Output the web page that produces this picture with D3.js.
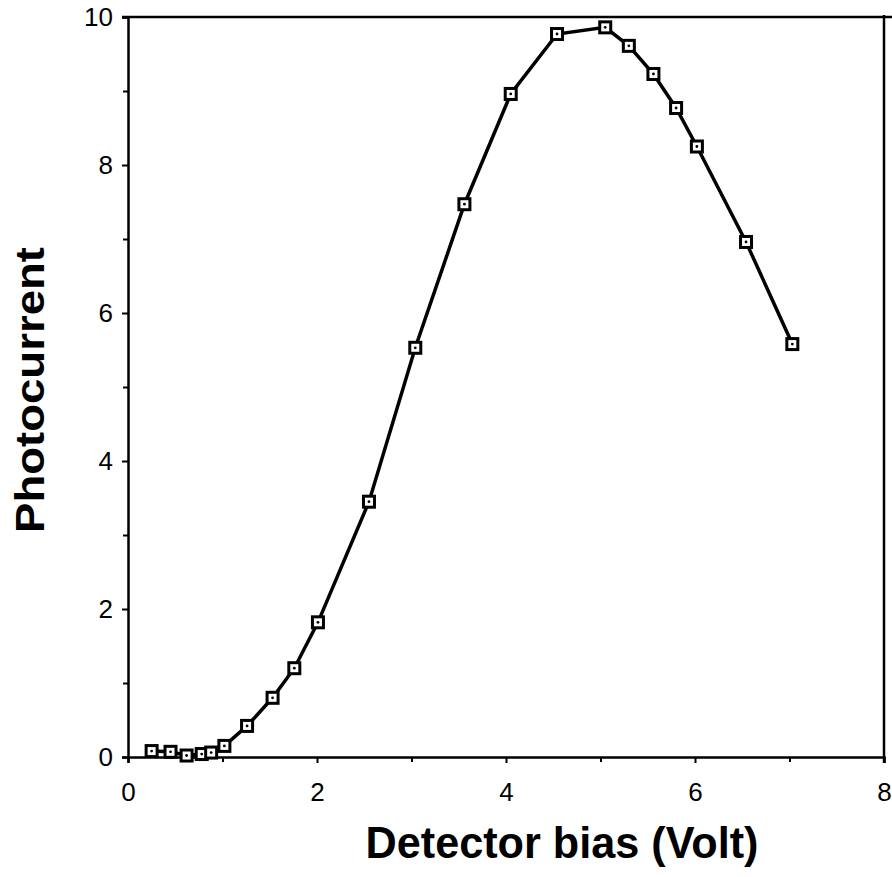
<!DOCTYPE html>
<html>
<head>
<meta charset="utf-8">
<script src="https://cdn.jsdelivr.net/npm/d3@7"></script>
<style>
  body { margin: 0; background: #fff; }
  svg { display: block; }
</style>
</head>
<body>
<div id="chart"></div>
<script>
// measured photocurrent vs detector bias
const biasVolt = [0.25, 0.45, 0.62, 0.78, 0.88, 1.02, 1.26, 1.53, 1.76, 2.01, 2.55, 3.04, 3.56, 4.05, 4.54, 5.05, 5.3, 5.56, 5.8, 6.02, 6.54, 7.03];
const photocurrent = [0.08, 0.07, 0.02, 0.04, 0.06, 0.15, 0.42, 0.8, 1.2, 1.82, 3.45, 5.53, 7.47, 8.96, 9.77, 9.86, 9.61, 9.23, 8.77, 8.25, 6.96, 5.58];
const xTicks = [0, 2, 4, 6, 8];
const xMinorTicks = [1, 3, 5, 7];
const yTicks = [0, 2, 4, 6, 8, 10];
const yMinorTicks = [1, 3, 5, 7, 9];

const data = biasVolt.map((v, i) => ({ x: v, y: photocurrent[i] }));

const W = 892, H = 877;
const margin = { top: 17, right: 8, bottom: 120, left: 128 },
      width = W - margin.left - margin.right,
      height = H - margin.top - margin.bottom;

const svg = d3.select('#chart').append('svg')
    .attr('width', W)
    .attr('height', H);

const g = svg.append('g')
    .attr('transform', `translate(${margin.left},${margin.top})`);

const x = d3.scaleLinear().domain([0, 8]).range([0, width]);
const y = d3.scaleLinear().domain([0, 10]).range([height, 0]);

const tickFont = '"Liberation Sans", Arial, sans-serif';

// bottom axis
g.append('g')
    .attr('transform', `translate(0,${height})`)
    .call(d3.axisBottom(x).tickValues(xTicks).tickSize(6).tickPadding(20).tickFormat(d3.format('d')));
g.append('g')
    .attr('transform', `translate(0,${height})`)
    .call(d3.axisBottom(x).tickValues(xMinorTicks).tickSize(5).tickFormat(''))
    .call(a => a.select('.domain').remove());

// left axis
g.append('g')
    .call(d3.axisLeft(y).tickValues(yTicks).tickSize(6).tickPadding(9).tickFormat(d3.format('d')));
g.append('g')
    .call(d3.axisLeft(y).tickValues(yMinorTicks).tickSize(5).tickFormat(''))
    .call(a => a.select('.domain').remove());

g.selectAll('.domain').attr('stroke', '#000').attr('stroke-width', 2.5);
g.selectAll('.tick line').attr('stroke', '#000').attr('stroke-width', 2);
g.selectAll('.tick text')
    .attr('fill', '#000')
    .style('font-family', tickFont)
    .style('font-size', '26px');

// frame: top and right
g.append('line')
    .attr('x1', x(0) - 6).attr('x2', W - margin.left)
    .attr('y1', y(10)).attr('y2', y(10))
    .attr('stroke', '#000').attr('stroke-width', 2.5);
g.append('line')
    .attr('x1', x(8)).attr('x2', x(8))
    .attr('y1', y(10) - 2).attr('y2', height + 6)
    .attr('stroke', '#000').attr('stroke-width', 2.5);

// data line
const line = d3.line().x(d => x(d.x)).y(d => y(d.y));
g.append('path')
    .datum(data)
    .attr('fill', 'none')
    .attr('stroke', '#000')
    .attr('stroke-width', 3.5)
    .attr('d', line);

// square markers
const s = 11;
const pts = g.selectAll('.pt')
    .data(data)
    .enter().append('g')
    .attr('class', 'pt')
    .attr('transform', d => `translate(${x(d.x)},${y(d.y)})`);
pts.append('rect')
    .attr('x', -s / 2).attr('y', -s / 2)
    .attr('width', s).attr('height', s)
    .attr('fill', '#fff')
    .attr('stroke', '#000')
    .attr('stroke-width', 3);
pts.append('circle')
    .attr('r', 1.4)
    .attr('fill', '#000');

// axis titles
svg.append('text')
    .attr('x', 562)
    .attr('y', 858)
    .attr('text-anchor', 'middle')
    .attr('textLength', 393)
    .attr('lengthAdjust', 'spacingAndGlyphs')
    .style('font-family', '"Liberation Sans", Arial, sans-serif')
    .style('font-weight', 'bold')
    .style('font-size', '45px')
    .text('Detector bias (Volt)');

svg.append('text')
    .attr('transform', 'translate(44,390) rotate(-90)')
    .attr('text-anchor', 'middle')
    .attr('textLength', 286)
    .attr('lengthAdjust', 'spacingAndGlyphs')
    .style('font-family', '"Liberation Sans", Arial, sans-serif')
    .style('font-weight', 'bold')
    .style('font-size', '40px')
    .text('Photocurrent');
</script>
</body>
</html>
